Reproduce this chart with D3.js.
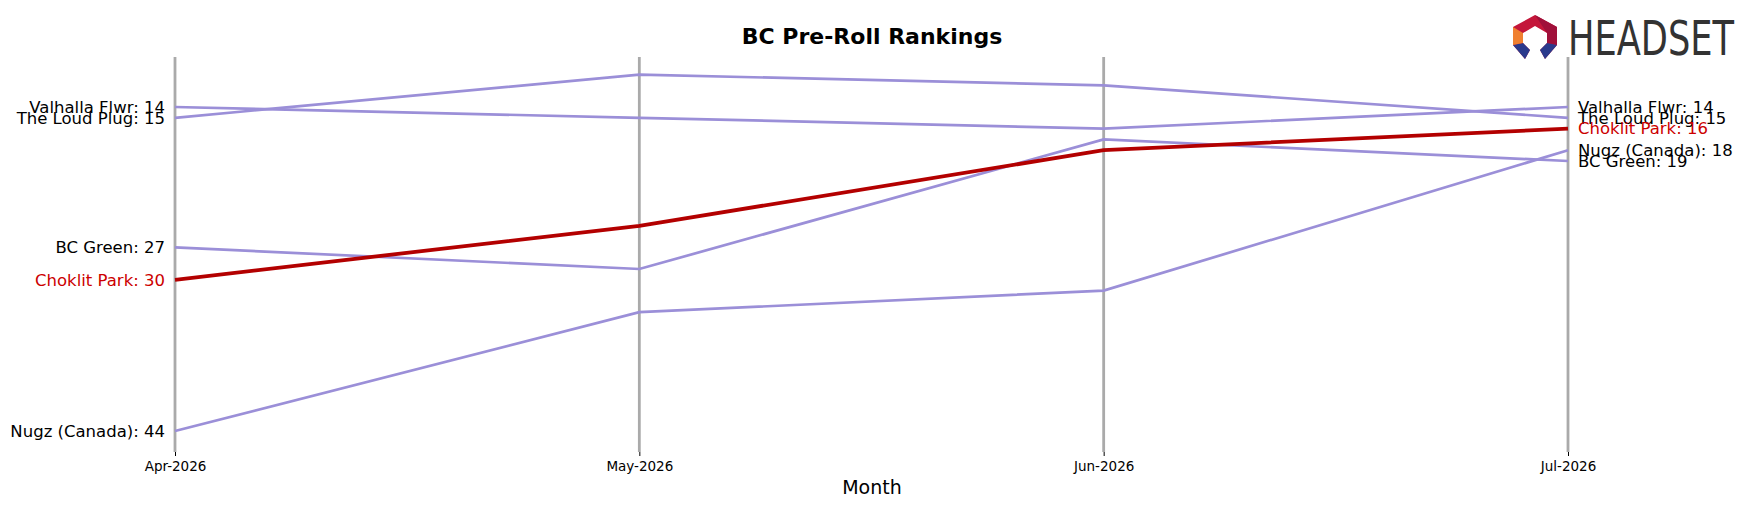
<!DOCTYPE html>
<html><head><meta charset="utf-8">
<script src="https://cdn.jsdelivr.net/npm/d3@7"></script>
<style>body{margin:0;background:#fff;font-family:"DejaVu Sans",sans-serif}</style>
</head><body><svg id="c" width="1750" height="507"></svg>
<script>
const months=["Apr-2026","May-2026","Jun-2026","Jul-2026"];
const valhalla=[14,15,16,14];
const loudPlug=[15,11,12,15];
const choklit=[30,25,18,16];
const bcGreen=[27,29,17,19];
const nugz=[44,33,31,18];
const series=[
 {name:"Valhalla Flwr",v:valhalla},
 {name:"The Loud Plug",v:loudPlug},
 {name:"BC Green",v:bcGreen},
 {name:"Nugz (Canada)",v:nugz},
 {name:"Choklit Park",v:choklit,hl:true}];
const svg=d3.select("#c");
const x=d3.scalePoint().domain(months).range([175,1568]);
const y=d3.scaleLinear().domain([14,44]).range([107,431]);
months.forEach(m=>svg.append("line").attr("x1",x(m)).attr("x2",x(m)).attr("y1",57).attr("y2",452).attr("stroke","#aaa").attr("stroke-width",2.8));
const ax=svg.append("g").attr("transform","translate(0,452)").call(d3.axisBottom(x).tickSize(4));
ax.select(".domain").remove();
ax.selectAll("text").attr("font-size",13.5).attr("font-family","DejaVu Sans").attr("dy","0.9em");
const line=d3.line().x((d,i)=>x(months[i])).y(d=>y(d));
series.forEach(s=>{
 svg.append("path").attr("d",line(s.v)).attr("fill","none").attr("stroke",s.hl?"#b30000":"#9b8fd8").attr("stroke-width",s.hl?3.8:2.7);
 const c=s.hl?"#cc0000":"#000";
 svg.append("text").attr("x",165).attr("y",y(s.v[0])).attr("dy","0.35em").attr("text-anchor","end").attr("font-size",16.5).attr("fill",c).text(s.name+": "+s.v[0]);
 svg.append("text").attr("x",1578).attr("y",y(s.v[3])).attr("dy","0.35em").attr("font-size",16.5).attr("fill",c).text(s.name+": "+s.v[3]);
});
svg.append("text").attr("x",872).attr("y",44).attr("text-anchor","middle").attr("font-weight","bold").attr("font-size",22).text("BC Pre-Roll Rankings");
svg.append("text").attr("x",872).attr("y",494).attr("text-anchor","middle").attr("font-size",19).text("Month");
// logo
const lg=svg.append("g").attr("transform","translate(1535,37)");
lg.append("path").attr("d","M-22,-10 L0,-22 L22,-10 L22,8 L10,22 L5,13 L12,6 L12,-4 L0,-11 L-12,-4 L-12,6 L-5,13 L-10,22 L-22,8 Z").attr("fill","#c4163a");
lg.append("path").attr("d","M0,-22 L22,-10 L22,8 L12,6 L12,-4 Z").attr("fill","#a0103a");
lg.append("path").attr("d","M-22,8 L-10,22 L-5,13 L-12,6 Z").attr("fill","#2b3a8c");
lg.append("path").attr("d","M22,8 L10,22 L5,13 L12,6 Z").attr("fill","#2b3a8c");
lg.append("path").attr("d","M-22,-10 L-12,-4 L-12,6 L-22,8 Z").attr("fill","#f08030");
svg.append("text").attr("x",1568).attr("y",55).attr("font-size",48).attr("font-family","Liberation Sans Narrow, DejaVu Sans Condensed, sans-serif").attr("fill","#333").attr("textLength",166).attr("lengthAdjust","spacingAndGlyphs").text("HEADSET");
</script></body></html>
